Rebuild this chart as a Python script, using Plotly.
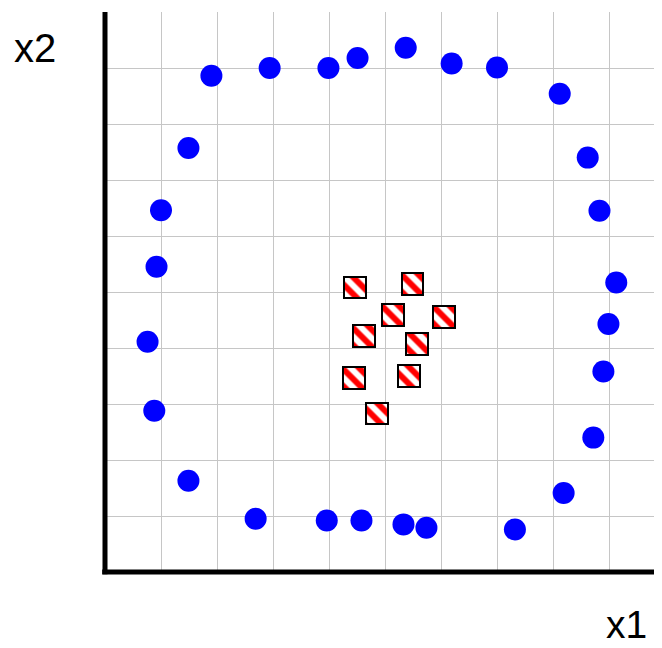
import plotly.graph_objects as go

# Outer ring (class 1) points
ring_x1 = [1.90, 2.94, 3.99, 4.51, 5.37, 6.19, 7.00, 8.12, 1.49, 8.62, 1.00, 8.83, 0.92, 9.13,
           0.76, 8.99, 8.90, 0.88, 8.72, 1.49, 8.19, 2.69, 3.96, 4.58, 5.33, 5.74, 7.32]
ring_x2 = [8.86, 9.00, 9.00, 9.18, 9.36, 9.08, 9.01, 8.54, 7.57, 7.40, 6.46, 6.45, 5.45, 5.17,
           4.11, 4.43, 3.58, 2.88, 2.40, 1.63, 1.41, 0.95, 0.92, 0.92, 0.85, 0.79, 0.76]

# Inner cluster (class 2) points
inner_x1 = [4.47, 5.49, 5.15, 6.05, 4.63, 5.57, 4.44, 5.43, 4.86]
inner_x2 = [5.08, 5.15, 4.59, 4.56, 4.21, 4.07, 3.46, 3.50, 2.83]

axis_labels = ["x1", "x2"]

SQ = 0.39  # square size in data units (style constant)
X_MAX = 557 / 56
Y_MAX = 10

# the page body has an 8px margin; the figure is sized/offset to compensate
OFF = 8
L, T, B = 105 - OFF, 12 - OFF, 76
W, H = 662 - OFF, 648 - OFF

fig = go.Figure()

fig.add_trace(go.Scatter(
    x=ring_x1, y=ring_x2, mode="markers",
    marker=dict(size=22, color="#0000ff", line=dict(width=0)),
    showlegend=False, hoverinfo="skip",
))

fig.add_trace(go.Bar(
    x=inner_x1,
    y=[SQ] * len(inner_x2),
    base=[v - SQ / 2 for v in inner_x2],
    width=SQ,
    marker=dict(
        color="white",
        line=dict(color="black", width=2),
        pattern=dict(shape="\\", fgcolor="red", bgcolor="white", size=12, solidity=0.5, fillmode="replace"),
    ),
    showlegend=False, hoverinfo="skip",
))

axis_common = dict(
    showgrid=True, gridcolor="#c6c6c6", gridwidth=1.2,
    zeroline=False, showline=False, showticklabels=False, ticks="",
    dtick=1, tick0=0, fixedrange=True,
)
fig.update_xaxes(range=[0, X_MAX], **axis_common)
fig.update_yaxes(range=[0, Y_MAX], **axis_common)

fig.add_shape(type="line", xref="paper", yref="paper", x0=-0.005, x1=1, y0=0, y1=0,
              line=dict(color="black", width=5))
fig.add_shape(type="line", xref="paper", yref="paper", x0=0, x1=0, y0=-0.004, y1=1,
              line=dict(color="black", width=5))

pw, ph = W - L, H - T - B
fig.add_annotation(text=axis_labels[0], xref="paper", yref="paper",
                   x=(626 - 105) / pw, y=(572 - 625) / ph,
                   xanchor="center", yanchor="middle", showarrow=False,
                   font=dict(family="Liberation Sans, Arial", size=39, color="black"))
fig.add_annotation(text=axis_labels[1], xref="paper", yref="paper",
                   x=(35 - 105) / pw, y=(572 - 48) / ph,
                   xanchor="center", yanchor="middle", showarrow=False,
                   font=dict(family="Liberation Sans, Arial", size=40, color="black"))

fig.update_layout(
    width=W, height=H,
    margin=dict(l=L, r=0, t=T, b=B, pad=0),
    plot_bgcolor="white", paper_bgcolor="white",
    barmode="overlay", bargap=0,
    showlegend=False,
)

fig.write_html("out.html")
